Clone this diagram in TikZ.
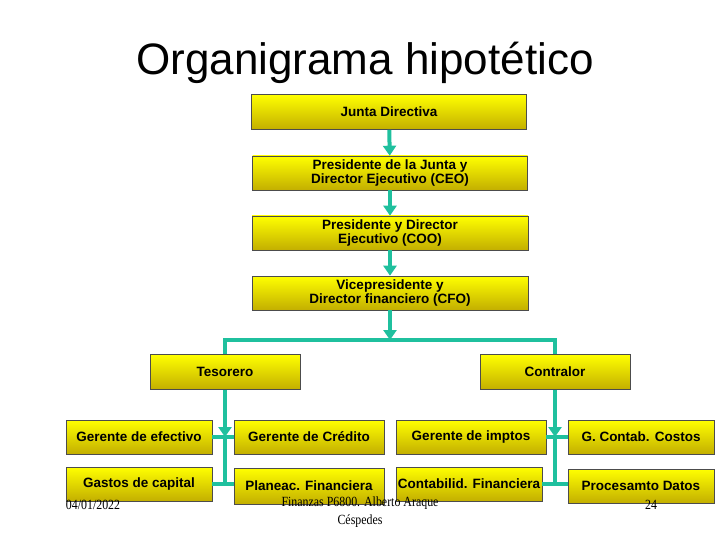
\documentclass[tikz,border=0pt]{standalone}
\usepackage{fontspec}
\setmainfont{Liberation Sans}
\newfontfamily\footfont{Liberation Serif}
\usetikzlibrary{arrows.meta}
\definecolor{conn}{HTML}{1FC09E}
\tikzset{
 box/.style={draw=black!70, line width=0.6pt, top color=yellow, bottom color={rgb,255:red,195;green,175;blue,0}, align=center, inner sep=0pt, font=\bfseries\fontsize{13.5}{12}\selectfont, text=black},
 ln/.style={draw=conn, line width=4pt},
 arr/.style={ln, -{Triangle[width=13pt,length=10pt]}},
 ft/.style={font=\footfont\fontsize{14}{18}\selectfont, align=center, xscale=0.85}
}
\begin{document}
\begin{tikzpicture}[x=1pt,y=-1pt]
\useasboundingbox (0,0) rectangle (720,540);
\node[font=\fontsize{44}{44}\selectfont] (title) at (365,63) {Organigrama hipotético};
\node[box, minimum width=275pt, minimum height=35pt] (jd) at (389,112) {Junta Directiva};
\node[box, minimum width=275pt, minimum height=34pt] (ceo) at (390,173) {Presidente de la Junta y\\Director Ejecutivo (CEO)};
\node[box, minimum width=276pt, minimum height=34pt] (coo) at (390,233) {Presidente y Director\\Ejecutivo (COO)};
\node[box, minimum width=276pt, minimum height=34pt] (cfo) at (390,293) {Vicepresidente y\\Director financiero (CFO)};
\node[box, minimum width=150pt, minimum height=35pt] (tes) at (225,372) {Tesorero};
\node[box, minimum width=150pt, minimum height=35pt] (con) at (555,372) {Contralor};
\node[box, minimum width=146pt, minimum height=34pt] (ef) at (139,437) {Gerente de efectivo};
\node[box, minimum width=150pt, minimum height=34pt] (cr) at (309,437) {Gerente de Crédito};
\node[box, minimum width=150pt, minimum height=34pt] (im) at (471,437) {Gerente de imptos};
\node[box, minimum width=146pt, minimum height=34pt] (co) at (641,437) {G. Contab. Costos};
\node[box, minimum width=146pt, minimum height=34pt] (ga) at (139,484) {Gastos de capital};
\node[box, minimum width=150pt, minimum height=36pt] (pl) at (309,486) {Planeac. Financiera};
\node[box, minimum width=146pt, minimum height=34pt] (cf) at (469,484) {Contabilid. Financiera};
\node[box, minimum width=146pt, minimum height=34pt] (pd) at (641,486) {Procesamto Datos};
\draw[arr] (jd) -- (ceo);
\draw[arr] (ceo) -- (coo);
\draw[arr] (coo) -- (cfo);
\coordinate (split) at (390,340);
\draw[arr] (cfo) -- (split);
\draw[ln] (tes.north) |- (split) -| (con.north);
\coordinate (tl) at (225,437);
\coordinate (tb) at (225,485);
\coordinate (cl) at (555,437);
\coordinate (cb) at (555,485);
\draw[arr] (tes) -- (tl);
\draw[ln] (tl) -- (tb);
\draw[ln] (ef.east) -- (cr.west);
\draw[ln] (ga.east) -- (ga.east -| pl.west);
\draw[arr] (con) -- (cl);
\draw[ln] (cl) -- (cb);
\draw[ln] (im.east) -- (co.west);
\draw[ln] (cf.east) -- (cf.east -| pd.west);
\node[ft] (date) at (93,505) {04/01/2022};
\node[ft] (fin) at (360,512) {Finanzas P6800. Alberto Araque\\Céspedes};
\node[ft] (pg) at (651,505) {24};
\end{tikzpicture}
\end{document}
